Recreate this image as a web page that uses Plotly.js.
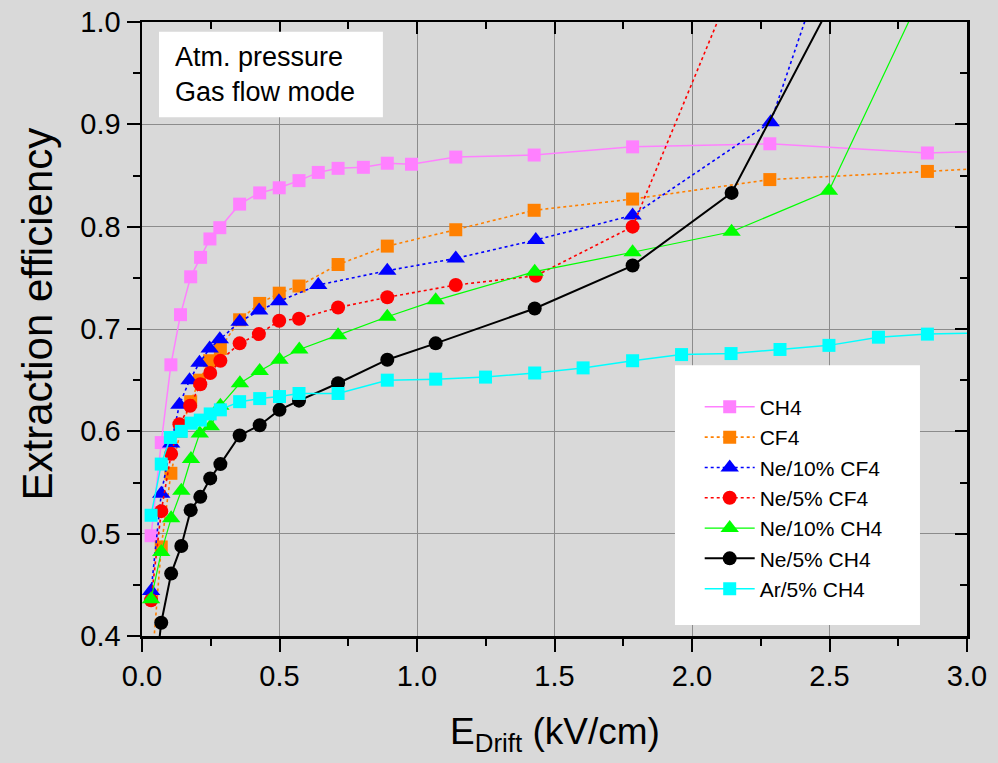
<!DOCTYPE html>
<html>
<head>
<meta charset="utf-8">
<script src="https://cdn.plot.ly/plotly-3.0.1.min.js"></script>
<style>html,body{margin:0;padding:0;background:#d9d9d9;}#chart{width:998px;height:763px;}</style>
</head>
<body>
<div id="chart"></div>
<script>
// ---- data ----
const seriesNames = ["CH4", "CF4", "Ne/10% CF4", "Ne/5% CF4", "Ne/10% CH4", "Ne/5% CH4", "Ar/5% CH4"];

const xCH4 = [0.033,0.07,0.105,0.14,0.177,0.213,0.247,0.283,0.355,0.428,0.499,0.571,0.641,0.713,0.805,0.892,0.98,1.141,1.426,1.784,2.283,2.856,3.2];
const yCH4 = [0.498,0.589,0.665,0.714,0.751,0.770,0.788,0.799,0.822,0.833,0.838,0.845,0.853,0.857,0.858,0.862,0.861,0.868,0.870,0.878,0.881,0.872,0.875];

const xCF4 = [0.04,0.07,0.105,0.14,0.177,0.209,0.246,0.285,0.355,0.428,0.499,0.571,0.713,0.892,1.141,1.426,1.784,2.283,2.856,3.2];
const yCF4 = [0.385,0.487,0.559,0.600,0.629,0.650,0.669,0.681,0.709,0.725,0.735,0.742,0.763,0.781,0.797,0.816,0.827,0.846,0.854,0.859];

const xNe10CF4 = [0.033,0.07,0.106,0.136,0.173,0.209,0.246,0.283,0.355,0.426,0.498,0.641,0.892,1.141,1.432,1.784,2.286,2.5];
const yNe10CF4 = [0.444,0.539,0.588,0.626,0.650,0.667,0.681,0.690,0.707,0.718,0.727,0.743,0.757,0.769,0.787,0.811,0.902,1.072];

const xNe5CF4 = [0.033,0.07,0.106,0.136,0.175,0.212,0.248,0.285,0.355,0.425,0.499,0.571,0.713,0.892,1.141,1.432,1.784,2.14];
const yNe5CF4 = [0.435,0.522,0.578,0.607,0.625,0.646,0.657,0.669,0.686,0.695,0.708,0.710,0.721,0.731,0.743,0.752,0.800,1.031];

const xNe10CH4 = [0.033,0.07,0.106,0.143,0.178,0.21,0.25,0.285,0.356,0.428,0.5,0.572,0.713,0.892,1.068,1.428,1.784,2.144,2.498,2.856];
const yNe10CH4 = [0.436,0.482,0.515,0.542,0.573,0.598,0.605,0.625,0.647,0.659,0.670,0.680,0.694,0.712,0.728,0.756,0.775,0.795,0.835,1.039];

const xNe5CH4 = [0.035,0.07,0.106,0.143,0.177,0.212,0.248,0.285,0.355,0.428,0.5,0.571,0.713,0.892,1.068,1.428,1.784,2.144,2.5];
const yNe5CH4 = [0.33,0.413,0.461,0.488,0.523,0.536,0.554,0.568,0.596,0.606,0.621,0.630,0.647,0.670,0.686,0.720,0.762,0.833,1.015];

const xAr5CH4 = [0.033,0.07,0.103,0.143,0.179,0.212,0.248,0.285,0.355,0.428,0.5,0.571,0.713,0.892,1.068,1.249,1.428,1.604,1.784,1.962,2.142,2.32,2.498,2.678,2.856,3.035];
const yAr5CH4 = [0.518,0.568,0.594,0.600,0.608,0.611,0.617,0.621,0.629,0.632,0.634,0.637,0.637,0.650,0.651,0.653,0.657,0.662,0.669,0.675,0.676,0.680,0.684,0.692,0.695,0.696];

const xTickVals = [0.0,0.5,1.0,1.5,2.0,2.5,3.0];
const yTickVals = [0.4,0.5,0.6,0.7,0.8,0.9,1.0];

// ---- styles ----
const FONT = "Liberation Sans, Arial, Helvetica, sans-serif";
function tr(name, x, y, color, symbol, size, dash, width) {
  return {
    type: "scatter", mode: "lines+markers", name: name, x: x, y: y,
    line: {color: color, dash: dash, width: width},
    marker: {color: color, symbol: symbol, size: size, line: {width: 0}},
    cliponaxis: true
  };
}
const data = [
  tr(seriesNames[0], xCH4, yCH4, "#ff80ff", "square", 13, "solid", 1.5),
  tr(seriesNames[1], xCF4, yCF4, "#ff8000", "square", 13, "dot", 1.6),
  tr(seriesNames[2], xNe10CF4, yNe10CF4, "#0000ff", "triangle-up", 16, "dot", 1.6),
  tr(seriesNames[3], xNe5CF4, yNe5CF4, "#ff0000", "circle", 14, "dot", 1.6),
  tr(seriesNames[4], xNe10CH4, yNe10CH4, "#00ff00", "triangle-up", 16, "solid", 1.2),
  tr(seriesNames[5], xNe5CH4, yNe5CH4, "#000000", "circle", 14, "solid", 2),
  tr(seriesNames[6], xAr5CH4, yAr5CH4, "#00ffff", "square", 13, "solid", 1.5),
  {type: "scatter", x: [], y: [], xaxis: "x2", yaxis: "y2", showlegend: false, hoverinfo: "skip"}
];

const axCommon = {
  showline: true, linecolor: "#000", linewidth: 2.5,
  showgrid: true, gridcolor: "#8c8c8c", gridwidth: 1,
  zeroline: false, tickcolor: "#000", tickwidth: 2, ticklen: 13,
  tickfont: {family: FONT, size: 29, color: "#000"}
};

const layout = {
  width: 998, height: 763,
  paper_bgcolor: "#d9d9d9", plot_bgcolor: "#d9d9d9",
  margin: {l: 142, r: 31, t: 22, b: 127},
  showlegend: true,
  legend: {
    x: 0.676, y: 0.406, xanchor: "left", yanchor: "top",
    bgcolor: "rgba(0,0,0,0)", borderwidth: 0,
    font: {family: FONT, size: 21, color: "#000"},
    itemwidth: 50, tracegroupgap: 0
  },
  xaxis: Object.assign({}, axCommon, {
    range: [0, 3.0], tickvals: xTickVals, ticktext: xTickVals.map(v => v.toFixed(1)),
    ticks: "outside",
    minor: {ticks: "outside", dtick: 0.25, tick0: 0, ticklen: 7, tickwidth: 2, tickcolor: "#000", showgrid: false}
  }),
  yaxis: Object.assign({}, axCommon, {
    range: [0.4, 1.0], tickvals: yTickVals, ticktext: yTickVals.map(v => v.toFixed(1)),
    ticks: "outside",
    minor: {ticks: "outside", dtick: 0.05, tick0: 0.4, ticklen: 7, tickwidth: 2, tickcolor: "#000", showgrid: false}
  }),
  xaxis2: {
    overlaying: "x", side: "top", anchor: "y2", range: [0, 3.0], tickvals: xTickVals,
    showticklabels: false, ticks: "inside", ticklen: 12, tickwidth: 2, tickcolor: "#000",
    showline: true, linecolor: "#000", linewidth: 2.5, showgrid: false, zeroline: false,
    minor: {ticks: "inside", dtick: 0.25, tick0: 0, ticklen: 7, tickwidth: 2, tickcolor: "#000"}
  },
  yaxis2: {
    overlaying: "y", side: "right", anchor: "x2", range: [0.4, 1.0], tickvals: yTickVals,
    showticklabels: false, ticks: "inside", ticklen: 12, tickwidth: 2, tickcolor: "#000",
    showline: true, linecolor: "#000", linewidth: 2.5, showgrid: false, zeroline: false,
    minor: {ticks: "inside", dtick: 0.05, tick0: 0.4, ticklen: 7, tickwidth: 2, tickcolor: "#000"}
  },
  shapes: [
    {type: "rect", xref: "paper", yref: "paper", x0: 0.0206, x1: 0.292, y0: 0.845, y1: 0.984,
     fillcolor: "#ffffff", line: {width: 0}, layer: "above"},
    {type: "rect", xref: "paper", yref: "paper", x0: 0.646, x1: 0.943, y0: 0.018, y1: 0.441,
     fillcolor: "#ffffff", line: {width: 0}, layer: "above"}
  ],
  annotations: [
    {xref: "paper", yref: "paper", x: 0.038, y: 0.943, xanchor: "left", yanchor: "middle",
     text: "Atm. pressure", showarrow: false, font: {family: FONT, size: 27, color: "#000"}},
    {xref: "paper", yref: "paper", x: 0.038, y: 0.886, xanchor: "left", yanchor: "middle",
     text: "Gas flow mode", showarrow: false, font: {family: FONT, size: 27, color: "#000"}},
    {xref: "paper", yref: "paper", x: -0.127, y: 0.524, xanchor: "center", yanchor: "middle",
     textangle: -90, text: "Extraction efficiency", showarrow: false, font: {family: FONT, size: 42, color: "#000"}},
    {xref: "paper", yref: "paper", x: 0.5, y: -0.16, xanchor: "center", yanchor: "middle",
     text: "E<sub>Drift</sub> (kV/cm)", showarrow: false, font: {family: FONT, size: 37, color: "#000"}}
  ]
};

Plotly.newPlot("chart", data, layout, {displayModeBar: false, staticPlot: true});
</script>
</body>
</html>
